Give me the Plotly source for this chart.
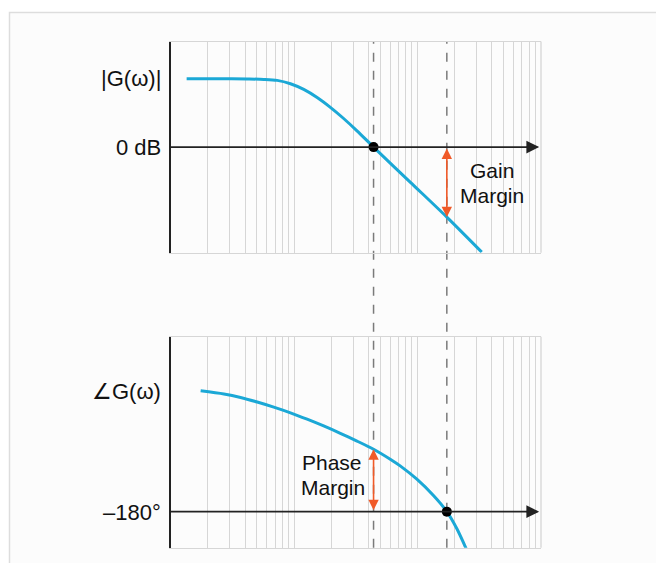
import math
import plotly.graph_objects as go

# ---- data ----
mag_w = [1.346, 2.385, 4.17, 5.68, 7.29, 9.34, 11.96, 15.35, 19.66, 25.18, 32.3, 44.0, 87.1, 172.6, 331.0]
mag_db = [22.67, 22.67, 22.57, 22.44, 22.11, 21.0, 19.11, 16.44, 13.18, 9.48, 5.39, 0.0, -11.6, -23.2, -34.8]

phase_w = [1.748, 2.698, 3.681, 5.022, 6.84, 9.34, 12.74, 17.35, 23.67, 32.3, 44.0, 60.05,
           72.3, 98.7, 134.5, 172.6, 207.8, 251.8]
phase_deg = [-92.8, -95.1, -97.6, -100.9, -104.6, -108.7, -113.3, -118.2, -123.5, -129.1, -135.0, -142.2,
             -147.0, -156.6, -168.4, -180.0, -192.2, -208.2]

w_gain_cross = 44.0      # |G| = 0 dB
w_phase_cross = 172.6    # angle G = -180 deg
gain_at_phase_cross = -23.2
phase_at_gain_cross = -135.0
ref_db = 0.0
ref_deg = -180.0

grid_w = [m * 10 ** d for d in range(3) for m in range(1, 10)] + [1000]

labels_left = ["|G(ω)|", "0 dB", "∠G(ω)", "–180°"]
margin_labels = [("Gain", "Margin"), ("Phase", "Margin")]

# ---- styling ----
OFF = 8                       # page body margin in the browser
W, H = 664 - 2 * OFF, 571 - 2 * OFF
CURVE = "#1ba8d6"
ARROW = "#f05a28"
GRID = "#d6d6d6"
TXT = "#111111"
FONT = "Liberation Sans, Arial, sans-serif"

def px(x):
    return (x - OFF) / W

def py(y):
    return 1 - (y - OFF) / H

xdom = [px(170.7), px(541)]
top_dom = [py(252.7), py(41.5)]
bot_dom = [py(547.7), py(336.7)]

fig = go.Figure()
fig.add_trace(go.Scatter(x=mag_w, y=mag_db, mode="lines",
                         line=dict(color=CURVE, width=3, shape="spline", smoothing=0.8),
                         xaxis="x", yaxis="y", hoverinfo="skip"))
fig.add_trace(go.Scatter(x=phase_w, y=phase_deg, mode="lines",
                         line=dict(color=CURVE, width=3, shape="spline", smoothing=0.8),
                         xaxis="x2", yaxis="y2", hoverinfo="skip"))
fig.add_trace(go.Scatter(x=[w_gain_cross], y=[ref_db], mode="markers", marker=dict(color="black", size=10),
                         xaxis="x", yaxis="y", hoverinfo="skip"))
fig.add_trace(go.Scatter(x=[w_phase_cross], y=[ref_deg], mode="markers", marker=dict(color="black", size=10),
                         xaxis="x2", yaxis="y2", hoverinfo="skip"))

xcommon = dict(type="log", range=[0, 3], tickvals=grid_w, showticklabels=False, ticks="",
               showgrid=True, gridcolor=GRID, gridwidth=1.3, showline=True, linecolor=GRID, linewidth=1.3,
               mirror=True, zeroline=False, domain=xdom, fixedrange=True)
ycommon = dict(showgrid=False, showticklabels=False, ticks="", zeroline=False, showline=True,
               linecolor="#222222", linewidth=2, mirror=False, fixedrange=True)

fig.update_layout(
    width=W, height=H,
    margin=dict(l=0, r=0, t=0, b=0),
    paper_bgcolor="white", plot_bgcolor="rgba(0,0,0,0)",
    showlegend=False,
    xaxis=dict(**xcommon, anchor="y"),
    yaxis=dict(**ycommon, range=[-35, 35], domain=top_dom, anchor="x"),
    xaxis2=dict(**xcommon, anchor="y2"),
    yaxis2=dict(**ycommon, range=[-206, -53.8], domain=bot_dom, anchor="x2"),
)

shapes = []
# frame
shapes.append(dict(type="rect", xref="paper", yref="paper", x0=px(9.5), x1=1.3, y0=-0.3, y1=py(12.5),
                   line=dict(color="#dddddd", width=1.5), fillcolor="#fcfcfc", layer="below"))
# right edges of panels
for xa, ya in (("x", "y"), ("x2", "y2")):
    shapes.append(dict(type="line", xref=f"{xa} domain", yref=f"{ya} domain", x0=1, x1=1, y0=0, y1=1,
                       line=dict(color=GRID, width=1.3)))
# dashed verticals spanning both panels
for w in (w_gain_cross, w_phase_cross):
    shapes.append(dict(type="line", xref="x", yref="paper", x0=w, x1=w,
                       y0=bot_dom[0], y1=top_dom[1],
                       line=dict(color="#7a7a7a", width=1.5, dash="dash"), layer="below"))
# horizontal reference lines
shapes.append(dict(type="line", xref="x domain", yref="y", x0=0, x1=0.99, y0=ref_db, y1=ref_db,
                   line=dict(color="#222222", width=1.6)))
shapes.append(dict(type="line", xref="x2 domain", yref="y2", x0=0, x1=0.99, y0=ref_deg, y1=ref_deg,
                   line=dict(color="#222222", width=1.6)))
fig.update_layout(shapes=shapes)

ann = []
# arrowheads on reference lines
for xa, ya, yv in (("x", "y", ref_db), ("x2", "y2", ref_deg)):
    ann.append(dict(xref=f"{xa} domain", yref=ya, x=0.995, y=yv, ax=-14, ay=0, text="", showarrow=True,
                    arrowhead=2, arrowsize=1.6, arrowwidth=1.6, arrowcolor="#222222"))
# gain margin arrow
ann.append(dict(xref="x", yref="y", x=math.log10(w_phase_cross), y=gain_at_phase_cross,
                axref="x", ayref="y", ax=math.log10(w_phase_cross), ay=ref_db, text="", showarrow=True,
                arrowhead=2, startarrowhead=2, arrowside="end+start", arrowsize=1.3, startarrowsize=1.3,
                arrowwidth=1.6, arrowcolor=ARROW, standoff=0, startstandoff=0))
# phase margin arrow
ann.append(dict(xref="x2", yref="y2", x=math.log10(w_gain_cross), y=phase_at_gain_cross,
                axref="x2", ayref="y2", ax=math.log10(w_gain_cross), ay=ref_deg, text="", showarrow=True,
                arrowhead=2, startarrowhead=2, arrowside="end+start", arrowsize=1.3, startarrowsize=1.3,
                arrowwidth=1.6, arrowcolor=ARROW, standoff=0, startstandoff=0))

f = dict(family=FONT, size=22, color=TXT)
for t, yy in zip(labels_left, (78, 147, 391.7, 512.7)):
    ann.append(dict(xref="paper", yref="paper", x=px(163), y=py(yy), text=t, showarrow=False,
                    xanchor="right", yanchor="middle", font=f))
f2 = dict(family=FONT, size=21, color=TXT)
pos = [((491.7, 170.5), (491.7, 195.0)), ((332, 462.0), (333, 487.5))]
for (l1, l2), ((x1, y1), (x2, y2)) in zip(margin_labels, pos):
    for t, xx, yy in ((l1, x1, y1), (l2, x2, y2)):
        ann.append(dict(xref="paper", yref="paper", x=px(xx), y=py(yy), text=t, showarrow=False,
                        xanchor="center", yanchor="middle", font=f2, borderpad=0))
fig.update_layout(annotations=ann)

fig.write_html("out.html")
